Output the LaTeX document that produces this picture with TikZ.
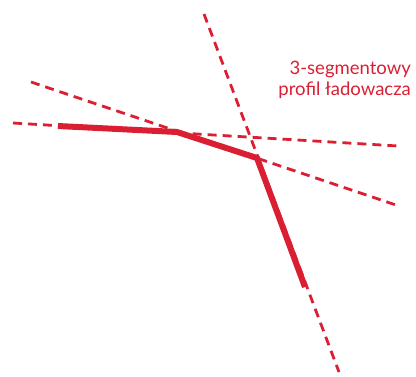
\documentclass[tikz,border=0pt]{standalone}
\usepackage{fontspec}
\setmainfont{Lato}
\usepackage{tikz}
\usetikzlibrary{positioning}
\definecolor{ldRed}{HTML}{DA1F33}
\tikzset{
  profile/.style={line width=6pt, ldRed, line join=miter},
  guide/.style={line width=2.8pt, ldRed, dash pattern=on 9pt off 6pt},
  caption/.style={font=\fontsize{18.5}{21}\selectfont, text=ldRed, align=right, inner sep=0pt}
}
\begin{document}
\begin{tikzpicture}[x=1pt, y=-1pt]
  \useasboundingbox (0,0) rectangle (416,376);
  % break points of the profile
  \coordinate (pA) at (58,126);
  \coordinate (pB) at (177,132);
  \coordinate (pC) at (257,158);
  \coordinate (pD) at (305,287);
  % ends of the guide lines
  \coordinate (g1s) at (13,123);
  \coordinate (g1e) at (398,146);
  \coordinate (g2s) at (31,82);
  \coordinate (g2e) at (396,205);
  \coordinate (g3s) at (204,14);
  \coordinate (g3e) at (339,372);
  % guides
  \draw[guide] (g1s) -- (g1e);
  \draw[guide] (g2s) -- (g2e);
  \draw[guide] (g3s) -- (g3e);
  % profile
  \draw[profile] (pA) -- (pB) -- (pC) -- (pD);
  \node[caption, anchor=north east] (cap) at (411,61) {3-segmentowy\\profil ładowacza};
\end{tikzpicture}
\end{document}
